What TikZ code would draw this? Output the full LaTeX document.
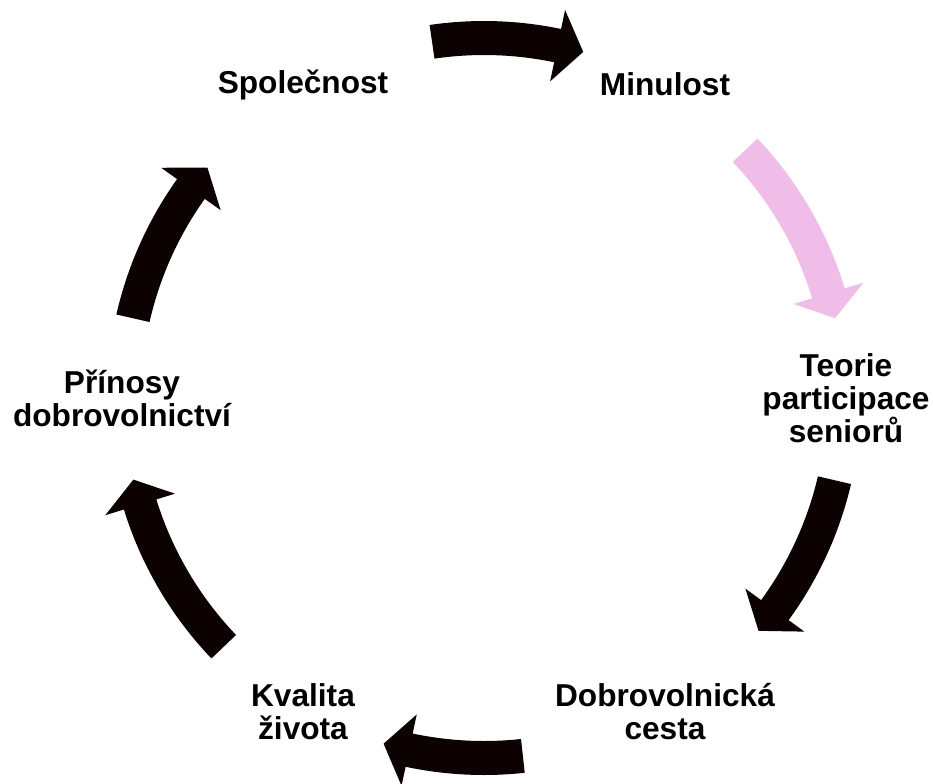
\documentclass[tikz,border=0pt]{standalone}
\usepackage{fontspec}
\setmainfont{Liberation Sans}
\definecolor{arrowdark}{RGB}{12,2,2}
\definecolor{arrowpink}{RGB}{240,188,232}
\tikzset{
  cyclelabel/.style={font=\bfseries\fontsize{18}{18.6}\selectfont, align=center, inner sep=0pt},
  cyclearrow/.style={fill=arrowdark},
  cyclearrowpink/.style={fill=arrowpink},
}
% block arrow on the ring: style, tail angle, head base angle, tip angle
\newcommand{\ringarrow}[4]{%
  \fill[#1] (#2:7.54) arc[start angle=#2, end angle=#3, radius=7.54]
    -- (#3:7.93) -- (#4:7.2) -- (#3:6.47)
    -- (#3:6.86) arc[start angle=#3, end angle=#2, radius=6.86] -- cycle;}

\begin{document}
\begin{tikzpicture}
            \useasboundingbox (-9.68,-7.70) rectangle (8.98,7.96);
            % labels round the ring
            \node[cyclelabel] (minulost) at (60:7.24) {Minulost};
            \node[cyclelabel] (teorie) at (0:7.24) {Teorie\\participace\\seniorů};
            \node[cyclelabel] (cesta) at (-60:7.24) {Dobrovolnická\\cesta};
            \node[cyclelabel] (kvalita) at (-120:7.24) {Kvalita\\života};
            \node[cyclelabel] (prinosy) at (180:7.24) {Přínosy\\dobrovolnictví};
            \node[cyclelabel] (spolecnost) at (120:7.24) {Společnost};
            % arrows
            \ringarrow{cyclearrow}{98.3}{78.2}{74.0}
            \ringarrow{cyclearrowpink}{43.5}{16.9}{12.8}
            \ringarrow{cyclearrow}{-13.2}{-36.1}{-40.3}
            \ringarrow{cyclearrow}{-83.8}{-102.0}{-106.2}
            \ringarrow{cyclearrow}{-136.3}{-162.8}{-166.9}
            \ringarrow{cyclearrow}{167.2}{144.5}{140.2}
\end{tikzpicture}
\end{document}
